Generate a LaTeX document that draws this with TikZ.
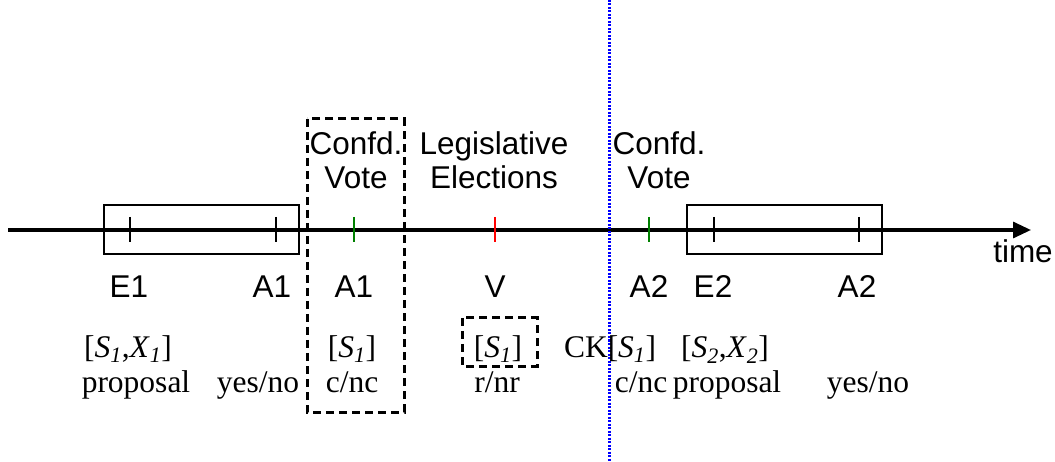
\documentclass[tikz,border=0pt]{standalone}
\usepackage{fontspec}
\setmainfont{Liberation Serif}
\setsansfont{Liberation Sans}
\usetikzlibrary{arrows.meta}
\definecolor{tgreen}{RGB}{0,128,0}
\definecolor{tred}{RGB}{255,0,0}
\definecolor{tblue}{RGB}{0,0,255}
\newcommand{\sub}[2]{\textit{#1}\textsubscript{\textit{#2}}}
\tikzset{
  sanslab/.style={font=\sffamily\fontsize{31.5}{34}\selectfont, inner sep=0pt, anchor=base},
  toplab/.style={font=\sffamily\fontsize{31.5}{34}\selectfont, inner sep=0pt, align=center, anchor=north},
  serlab/.style={font=\fontsize{31.5}{35}\selectfont, inner sep=0pt, anchor=base},
  tickmark/.style={line width=2pt},
  period/.style={draw, line width=2pt},
  dbox/.style={draw, line width=3pt, dash pattern=on 8pt off 5pt},
  axisline/.style={line width=3.2pt, -{Triangle[length=18pt,width=16pt]}},
}
\begin{document}
\begin{tikzpicture}[x=1pt,y=-1pt]
\useasboundingbox (0,0) rectangle (1055,462);
% periods
\draw[period] (104,205) rectangle (299,254);
\draw[period] (687,205) rectangle (882,254);
% axis
\coordinate (ax0) at (8,230);
\coordinate (ax1) at (1031,230);
\draw[axisline] (ax0) -- (ax1);
% ticks
\draw[tickmark] (130,217) -- (130,242);
\draw[tickmark] (276,217) -- (276,242);
\draw[tickmark, tgreen] (354,217) -- (354,242);
\draw[tickmark, tred] (495,217) -- (495,242);
\draw[tickmark, tgreen] (649,217) -- (649,242);
\draw[tickmark] (714,217) -- (714,242);
\draw[tickmark] (859,217) -- (859,242);
% dashed boxes
\draw[dbox] (307,119) rectangle (404,412);
\draw[dbox] (462,318) rectangle (537,366);
% blue dotted line
\coordinate (ck0) at (609,0);
\coordinate (ck1) at (609,462);
\draw[tblue, line width=3pt, dash pattern=on 2pt off 1.5pt] (ck0) -- (ck1);
% top labels
\node[toplab] (cv1) at (356,131) {Confd.\\Vote};
\node[toplab] (le) at (494,131) {Legislative\\Elections};
\node[toplab] (cv2) at (659,131) {Confd.\\Vote};
% time
\node[sanslab] (time) at (1023,263) {time};
% event labels
\node[sanslab] (e1) at (129,298) {E1};
\node[sanslab] (a1) at (272,298) {A1};
\node[sanslab] (a1b) at (354,298) {A1};
\node[sanslab] (v) at (495,298) {V};
\node[sanslab] (a2) at (649,298) {A2};
\node[sanslab] (e2) at (713,298) {E2};
\node[sanslab] (a2b) at (857,298) {A2};
% information
\node[serlab] (i1) at (128,357) {[\sub{S}{1},\sub{X}{1}]};
\node[serlab] (i2) at (352,357) {[\sub{S}{1}]};
\node[serlab] (i3) at (498,357) {[\sub{S}{1}]};
\node[serlab] (i4) at (610,357) {CK[\sub{S}{1}]};
\node[serlab] (i5) at (725,357) {[\sub{S}{2},\sub{X}{2}]};
% actions
\node[serlab] (p1) at (136,392) {proposal};
\node[serlab] (y1) at (258,392) {yes/no};
\node[serlab] (c1) at (352,392) {c/nc};
\node[serlab] (r1) at (497,392) {r/nr};
\node[serlab] (c2) at (641,392) {c/nc};
\node[serlab] (p2) at (727,392) {proposal};
\node[serlab] (y2) at (868,392) {yes/no};
\end{tikzpicture}
\end{document}
